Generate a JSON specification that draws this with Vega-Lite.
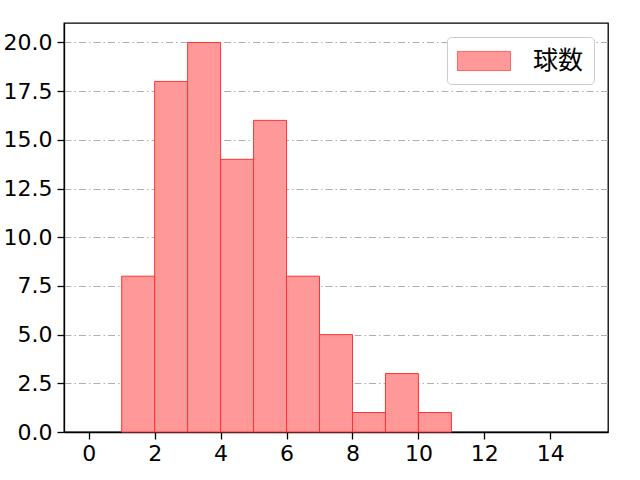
{
  "$schema": "https://vega.github.io/schema/vega-lite/v6.json",
  "width": 544,
  "height": 409,
  "autosize": {"type": "none"},
  "padding": {"left": 64, "top": 23, "right": 32, "bottom": 48},
  "data": {
    "values": [
      {"bin_start": 1, "bin_end": 2, "count": 8, "series": "球数"},
      {"bin_start": 2, "bin_end": 3, "count": 18, "series": "球数"},
      {"bin_start": 3, "bin_end": 4, "count": 20, "series": "球数"},
      {"bin_start": 4, "bin_end": 5, "count": 14, "series": "球数"},
      {"bin_start": 5, "bin_end": 6, "count": 16, "series": "球数"},
      {"bin_start": 6, "bin_end": 7, "count": 8, "series": "球数"},
      {"bin_start": 7, "bin_end": 8, "count": 5, "series": "球数"},
      {"bin_start": 8, "bin_end": 9, "count": 1, "series": "球数"},
      {"bin_start": 9, "bin_end": 10, "count": 3, "series": "球数"},
      {"bin_start": 10, "bin_end": 11, "count": 1, "series": "球数"}
    ]
  },
  "mark": {"type": "rect", "stroke": "#ff3333", "strokeWidth": 1, "fillOpacity": 1},
  "encoding": {
    "x": {
      "field": "bin_start",
      "type": "quantitative",
      "scale": {"domain": [-0.75, 15.75], "nice": false, "zero": false},
      "axis": {"values": [0, 2, 4, 6, 8, 10, 12, 14], "grid": false, "title": null}
    },
    "x2": {"field": "bin_end"},
    "y": {
      "field": "count",
      "type": "quantitative",
      "scale": {"domain": [0, 21], "nice": false},
      "axis": {
        "values": [0, 2.5, 5, 7.5, 10, 12.5, 15, 17.5, 20],
        "format": ".1f",
        "grid": true,
        "gridColor": "#b0b0b0",
        "gridWidth": 1,
        "gridDash": [7, 3, 1.5, 3],
        "title": null
      }
    },
    "y2": {"datum": 0},
    "fill": {
      "field": "series",
      "type": "nominal",
      "scale": {"range": ["#ff9999"]},
      "legend": {
        "title": null,
        "orient": "none",
        "legendX": 383,
        "legendY": 14,
        "symbolType": "M-2,-0.72H2V0.72H-2Z",
        "symbolSize": 702,
        "symbolOffset": 13,
        "symbolStrokeColor": "#ff6666",
        "symbolStrokeWidth": 1,
        "labelOffset": 35,
        "labelFontSize": 25,
        "labelFont": "Noto Sans CJK JP",
        "labelColor": "#000000",
        "padding": 10,
        "strokeColor": "#cccccc",
        "fillColor": "#ffffff",
        "cornerRadius": 4
      }
    }
  },
  "config": {
    "view": {"stroke": "#000000", "strokeWidth": 1.3},
    "axis": {
      "domainColor": "#000000",
      "domainWidth": 1.3,
      "tickColor": "#000000",
      "tickWidth": 1.3,
      "tickSize": 7,
      "labelFont": "DejaVu Sans",
      "labelFontSize": 22,
      "labelColor": "#000000",
      "labelPadding": 4
    },
    "axisY": {"labelPadding": 5}
  }
}
